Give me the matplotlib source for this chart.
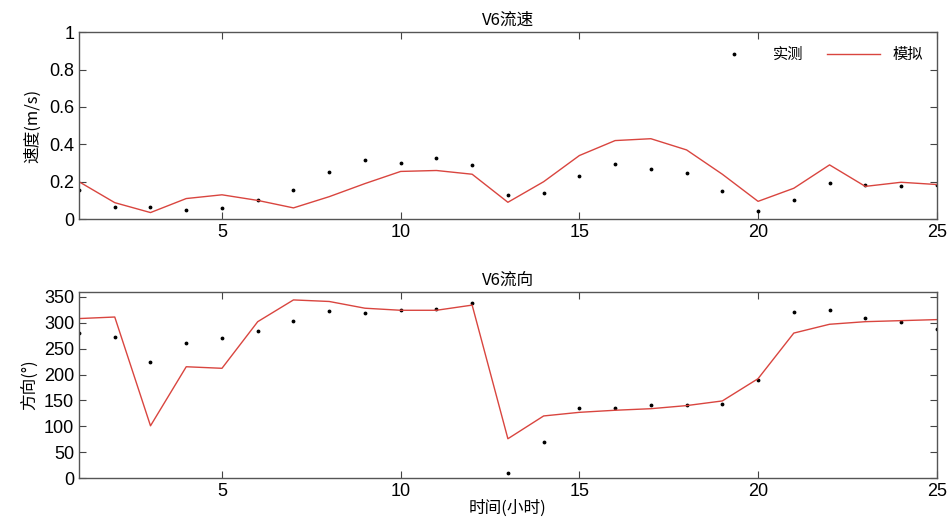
import matplotlib
matplotlib.use('Agg')
import matplotlib.pyplot as plt
from matplotlib.ticker import FuncFormatter

plt.rcParams['font.family'] = ['Liberation Sans', 'Noto Sans CJK SC', 'DejaVu Sans']

hours = list(range(1, 26))

# speed (m/s)
speed_obs = [0.155, 0.066, 0.063, 0.050, 0.062, 0.100, 0.157, 0.250, 0.315, 0.300,
             0.328, 0.287, 0.128, 0.140, 0.230, 0.295, 0.268, 0.247, 0.149, 0.046,
             0.103, 0.193, 0.180, 0.177, 0.184]
speed_sim = [0.200, 0.088, 0.035, 0.110, 0.130, 0.100, 0.060, 0.120, 0.190, 0.255,
             0.260, 0.240, 0.090, 0.200, 0.340, 0.420, 0.430, 0.370, 0.240, 0.095,
             0.165, 0.290, 0.175, 0.197, 0.185]

# direction (deg)
dir_obs = [281, 273, 225, 261, 270, 284, 304, 323, 318, 324,
           327, 339, 10, 69, 135, 135, 142, 141, 143, 189,
           320, 324, 310, 301, 288]
dir_sim = [308, 311, 101, 215, 212, 302, 344, 341, 328, 324,
           324, 334, 76, 120, 127, 131, 134, 140, 149, 192,
           280, 297, 302, 304, 306]

red = '#d9453f'
cjk = ['Noto Sans CJK SC', 'DejaVu Sans']

fig = plt.figure(figsize=(9.52, 5.18), dpi=100)
ax1 = fig.add_axes([0.083, 0.577, 0.901, 0.361])
ax2 = fig.add_axes([0.083, 0.077, 0.901, 0.360])

ax1.plot(hours, speed_obs, '.', color='black', markersize=3.5, label='实测')
ax1.plot(hours, speed_sim, '-', color=red, linewidth=1, label='模拟')
ax1.set_ylim(0, 1)
ax1.set_yticks([0, 0.2, 0.4, 0.6, 0.8, 1])
ax1.yaxis.set_major_formatter(FuncFormatter(lambda v, p: '%g' % v))
ax1.set_title('V6流速', fontsize=12, family=cjk, pad=5)
ax1.set_ylabel('速度(m/s)', fontsize=12, family=cjk, labelpad=6)
ax1.legend(loc='upper right', ncol=2, frameon=False,
           prop={'family': cjk, 'size': 11}, handlelength=3.5, columnspacing=1.5)

ax2.plot(hours, dir_obs, '.', color='black', markersize=3.5)
ax2.plot(hours, dir_sim, '-', color=red, linewidth=1)
ax2.set_ylim(0, 360)
ax2.set_yticks(range(0, 351, 50))
ax2.set_title('V6流向', fontsize=12, family=cjk, pad=5)
ax2.set_ylabel('方向(°)', fontsize=12, family=cjk, labelpad=4)
ax2.set_xlabel('时间(小时)', fontsize=12, family=cjk, labelpad=0)

for ax in (ax1, ax2):
    ax.set_xlim(1, 25)
    ax.set_xticks([5, 10, 15, 20, 25])
    ax.tick_params(direction='in', top=True, right=True, labelsize=13, length=5, color='#444444')
    for s in ax.spines.values():
        s.set_color('#555555')
        s.set_linewidth(1)

fig.savefig('out.png', dpi=100)
